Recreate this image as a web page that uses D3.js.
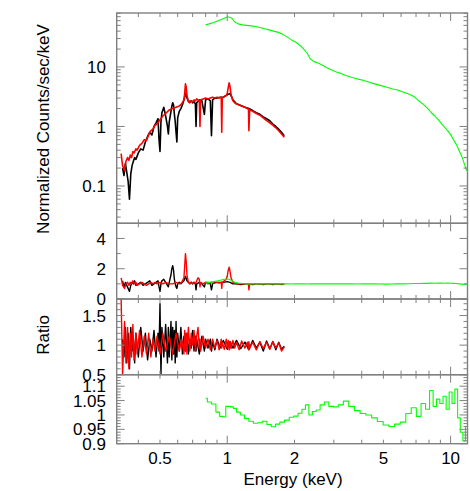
<!DOCTYPE html>
<html>
<head>
<meta charset="utf-8">
<script src="https://cdn.jsdelivr.net/npm/d3@7"></script>
<style>
body { margin: 0; background: #fff; }
text { font-family: "Liberation Sans", Arial, sans-serif; font-size: 17px; fill: #000; }
</style>
</head>
<body>
<svg id="chart" width="470" height="491"></svg>
<script>
// energy bins (keV) of the black data set
var blackE = [
  0.34,0.345,0.35,0.355,0.36,0.365,0.37,0.375,0.38,0.385,
  0.39,0.40,0.41,0.42,0.43,0.44,0.45,0.46,0.47,0.48,
  0.49,0.495,0.50,0.505,0.51,0.52,0.53,0.54,0.545,0.55,
  0.56,0.565,0.57,0.575,0.58,0.585,0.59,0.595,0.60,0.61,
  0.62,0.63,0.64,0.65,0.66,0.67,0.68,0.69,0.70,0.71,
  0.72,0.725,0.73,0.75,0.77,0.79,0.80,0.82,0.84,0.85,
  0.86,0.88,0.90,0.93,0.96,1.00,1.03,1.06,1.10,1.15,
  1.20,1.25,1.30,1.35,1.40,1.45,1.50,1.55,1.60,1.65,
  1.70,1.75,1.80];
var blackCounts = [
  0.20,0.15,0.24,0.17,0.12,0.06,0.16,0.22,0.26,0.30,
  0.28,0.36,0.42,0.40,0.55,0.68,0.80,0.72,1.00,1.15,
  1.35,0.60,0.38,1.20,1.70,2.10,1.50,1.00,0.75,1.20,
  1.80,2.20,2.50,2.30,1.60,1.20,0.80,0.55,1.40,1.80,
  2.00,2.30,2.80,3.60,3.00,2.70,2.60,2.70,2.50,2.60,
  2.40,1.00,2.50,2.80,2.70,1.60,2.80,2.90,2.70,0.70,
  2.80,3.00,3.00,3.10,3.10,3.40,3.60,2.80,2.40,2.25,
  2.10,2.00,1.85,1.70,1.60,1.45,1.35,1.25,1.10,1.00,
  0.90,0.80,0.70];
var blackLines = [
  1.2,0.8,1.1,0.9,0.7,0.5,0.9,1.1,1.0,1.2,
  0.9,1.0,1.1,0.9,1.0,1.1,1.2,0.9,1.0,1.1,
  1.2,0.8,0.5,1.0,1.2,1.3,1.1,0.9,0.8,1.1,
  1.6,2.0,2.2,1.9,1.3,1.0,0.8,0.7,1.0,1.1,
  1.0,1.1,1.2,1.5,1.2,1.1,1.0,1.1,1.0,1.1,
  1.0,0.6,1.0,1.1,1.0,0.8,1.1,1.1,1.0,0.6,
  1.0,1.1,1.1,1.1,1.1,1.15,1.1,1.0,1.0,0.95,
  1.0,1.0,0.95,1.0,1.0,0.95,1.0,1.0,0.95,1.0,
  1.0,0.95,1.0];
var blackRatio = [
  1.1,0.8,1.3,0.7,1.2,0.6,1.3,0.9,1.1,0.7,
  1.2,0.8,1.3,0.9,1.2,0.75,1.1,0.9,1.25,0.8,
  1.2,0.9,1.7,0.5,1.3,0.8,1.35,0.7,1.3,0.8,
  1.4,0.75,1.3,0.85,1.25,0.7,1.4,0.8,1.2,0.9,
  1.3,0.85,1.15,0.9,1.2,0.85,1.1,0.95,1.25,0.9,
  1.15,0.9,1.1,0.85,1.15,0.9,1.1,0.95,1.1,0.9,
  1.05,0.92,1.1,0.95,1.08,0.93,1.06,0.95,1.08,0.94,
  1.05,0.92,1.08,0.95,1.05,0.9,1.07,0.94,1.06,0.92,
  1.05,0.93,0.98];

// energy bins (keV) of the red data set
var redE = [
  0.335,0.34,0.347,0.352,0.358,0.363,0.368,0.373,0.378,0.383,
  0.39,0.395,0.405,0.415,0.425,0.435,0.445,0.455,0.465,0.475,
  0.485,0.50,0.515,0.53,0.55,0.57,0.59,0.61,0.625,0.64,
  0.645,0.65,0.655,0.66,0.67,0.68,0.69,0.70,0.71,0.72,
  0.73,0.74,0.75,0.755,0.76,0.78,0.80,0.82,0.84,0.86,
  0.88,0.90,0.92,0.94,0.945,0.95,0.97,0.99,1.00,1.01,
  1.02,1.03,1.04,1.06,1.08,1.10,1.13,1.16,1.20,1.23,
  1.245,1.25,1.26,1.30,1.35,1.40,1.45,1.50,1.55,1.60,
  1.65,1.70,1.75,1.80];
var redCounts = [
  0.35,0.22,0.18,0.26,0.30,0.27,0.33,0.30,0.38,0.36,
  0.42,0.40,0.48,0.52,0.60,0.58,0.72,0.85,0.90,1.05,
  1.10,1.30,1.50,1.65,1.90,2.00,2.10,2.20,2.40,2.80,
  3.60,5.20,4.60,3.40,2.60,2.50,2.70,2.60,2.80,2.70,
  2.90,2.80,2.70,1.00,2.80,2.90,3.00,2.90,3.00,3.10,
  3.00,3.10,3.00,3.10,0.80,3.00,3.20,3.30,3.60,4.50,
  5.40,4.60,3.40,2.70,2.50,2.40,2.30,2.20,2.10,2.00,
  1.95,0.85,1.90,1.80,1.65,1.55,1.40,1.25,1.15,1.05,
  0.95,0.85,0.75,0.66];
var redLines = [
  1.4,0.9,0.7,1.0,1.1,0.9,1.1,1.0,1.2,1.0,
  1.1,0.9,1.0,1.1,1.0,0.9,1.0,1.1,1.0,1.1,
  1.0,1.1,1.0,1.1,1.0,1.0,1.1,1.0,1.1,1.4,
  2.2,3.0,2.5,1.6,1.1,1.0,1.1,1.0,1.1,1.0,
  1.2,1.4,1.3,0.8,1.1,1.0,1.1,1.0,1.1,1.05,
  1.05,1.1,1.05,1.1,0.7,1.1,1.2,1.3,1.5,1.9,
  2.1,1.8,1.4,1.1,1.05,1.0,1.0,1.0,1.0,1.0,
  0.98,0.6,0.98,1.0,1.0,0.98,1.0,1.0,0.98,1.0,
  1.0,0.98,1.0,0.95];
var redRatio = [
  1.78,0.5,1.4,0.7,1.3,0.6,1.2,0.8,1.35,0.75,
  1.2,0.85,1.25,0.8,1.15,0.85,1.2,0.8,1.1,0.9,
  1.15,0.85,1.2,0.9,1.15,0.85,1.2,0.9,1.1,0.85,
  1.25,0.9,1.2,0.85,1.3,0.9,1.2,1.0,1.25,0.9,
  1.15,1.3,0.95,1.1,0.9,1.15,0.95,1.1,0.92,1.1,
  0.95,1.08,0.92,1.1,0.95,1.05,0.93,1.1,0.95,1.08,
  0.92,1.06,0.94,1.08,0.95,1.05,0.92,1.07,0.95,1.05,
  0.93,1.06,0.95,1.05,0.92,1.06,0.94,1.05,0.93,1.06,
  0.95,1.04,0.9,0.97];

// energy bins (keV) of the green data set
var greenE = [
  0.80,0.83,0.87,0.91,0.94,0.97,1.00,1.02,1.05,1.08,
  1.12,1.17,1.22,1.28,1.34,1.40,1.47,1.54,1.61,1.68,
  1.76,1.85,1.94,2.03,2.12,2.20,2.28,2.36,2.45,2.55,
  2.66,2.78,2.92,3.06,3.22,3.40,3.60,3.82,4.05,4.30,
  4.56,4.84,5.14,5.45,5.78,6.12,6.48,6.85,7.20,7.55,
  7.90,8.20,8.50,8.80,9.10,9.40,9.70,10.0,10.3,10.6,
  10.9,11.2,11.5,11.8];
var greenCounts = [
  51,53,56,60,63,66,69,69,66,57,
  53,51,50,49,48,46,44,42,40,38.5,
  36,32,28.5,26,23,20,17,13.5,12.3,11.7,
  10.8,9.8,9.0,8.3,7.8,7.2,6.7,6.3,6.0,5.6,
  5.2,4.9,4.6,4.3,4.1,3.8,3.5,3.2,2.7,2.35,
  2.0,1.7,1.5,1.3,1.12,0.97,0.85,0.73,0.60,0.50,
  0.40,0.32,0.24,0.18];
var greenLines = [
  1.05,1.1,1.15,1.2,1.25,1.3,1.32,1.3,1.2,1.1,
  1.05,1.02,1.0,1.0,1.0,1.0,1.0,1.0,1.0,1.0,
  1.0,1.01,0.99,1.0,1.01,1.0,0.99,1.0,1.01,1.0,
  1.0,1.01,1.0,1.0,1.01,1.0,1.0,0.99,1.0,1.0,
  1.0,0.99,0.98,0.99,1.0,1.0,1.01,1.02,1.02,1.03,
  1.03,1.05,1.04,1.06,1.05,1.04,1.05,1.04,1.03,1.02,
  1.0,0.98,0.96,0.95];
var greenRatio = [
  1.058,1.045,1.038,1.01,0.995,0.994,1.03,1.03,1.028,1.023,
  1.01,1.0,0.988,0.978,0.971,0.973,0.978,0.967,0.959,0.968,
  0.975,0.982,0.992,0.996,1.006,1.02,1.035,1.0,1.012,1.017,
  1.035,1.045,1.03,1.028,1.035,1.048,1.03,1.015,1.005,1.0,
  0.99,0.977,0.965,0.96,0.968,0.975,1.005,1.025,0.995,1.04,
  1.02,1.085,1.03,1.055,1.04,1.065,1.02,1.08,1.04,1.09,
  0.99,0.94,0.91,0.96];

// tick labels
var energyTicks = [0.5, 1, 2, 5, 10];
var countTicks = [0.1, 1, 10];
var lineTicks = [0, 2, 4];
var ratioTicks = [0.5, 1, 1.5];
var greenTicks = [0.9, 0.95, 1, 1.05, 1.1];

var svg = d3.select("#chart"),
    left = 116.7,
    right = 467.5,
    frameColor = "#808080";

var x = d3.scaleLog().domain([0.32, 11.9]).range([left, right]);

var panels = [
  { top: 13, bottom: 223.3, y: d3.scaleLog().domain([0.0236, 80.7]),
    labels: countTicks, minor: null, width: 1.6, curve: d3.curveLinear,
    series: [[blackE, blackCounts, "#000"], [redE, redCounts, "#f00"], [greenE, greenCounts, "#0f0"]] },
  { top: 223.3, bottom: 299, y: d3.scaleLinear().domain([0, 5]),
    labels: lineTicks, minor: 1, major: 2, width: 1.4, curve: d3.curveLinear,
    series: [[blackE, blackLines, "#000"], [redE, redLines, "#f00"], [greenE, greenLines, "#0f0"]] },
  { top: 299, bottom: 374.7, y: d3.scaleLinear().domain([0.5, 1.78]),
    labels: ratioTicks, minor: 0.1, major: 0.5, width: 1.4, curve: d3.curveLinear,
    series: [[blackE, blackRatio, "#000"], [redE, redRatio, "#f00"]] },
  { top: 374.7, bottom: 443.7, y: d3.scaleLinear().domain([0.9, 1.14]),
    labels: greenTicks, minor: 0.01, major: 0.05, width: 1.1, curve: d3.curveStep,
    series: [[greenE, greenRatio, "#0f0"]] }
];

function isMultiple(v, step) {
  var r = v / step;
  return Math.abs(r - Math.round(r)) < 1e-6;
}

panels.forEach(function (p, i) {
  p.y.range([p.bottom, p.top]);
  var g = svg.append("g").attr("class", "panel");

  var clipId = "clip" + i;
  svg.append("clipPath").attr("id", clipId)
     .append("rect")
     .attr("x", left).attr("y", p.top)
     .attr("width", right - left).attr("height", p.bottom - p.top);

  var line = d3.line()
      .curve(p.curve)
      .x(function (d) { return x(d[0]); })
      .y(function (d) { return p.y(d[1]); });

  p.series.forEach(function (s) {
    g.append("path")
     .attr("clip-path", "url(#" + clipId + ")")
     .attr("d", line(d3.zip(s[0], s[1])))
     .attr("fill", "none")
     .attr("stroke", s[2])
     .attr("stroke-width", s[2] == "#0f0" ? 1.1 : p.width)
     .attr("stroke-linejoin", "round");
  });

  // y ticks, inward on both sides
  var yt;
  if (p.minor == null) {
    yt = p.y.ticks().map(function (v) {
      var lg = Math.log10(v);
      return { v: v, major: Math.abs(lg - Math.round(lg)) < 1e-6 };
    });
  } else {
    yt = d3.range(Math.round((p.y.domain()[1] - p.y.domain()[0]) / p.minor) + 1)
      .map(function (k) {
        var v = p.y.domain()[0] + k * p.minor;
        return { v: v, major: isMultiple(v, p.major) };
      })
      .filter(function (d) { return d.v <= p.y.domain()[1] + 1e-9; });
  }
  yt.forEach(function (t) {
    var yy = p.y(t.v), len = t.major ? 8 : 4;
    g.append("line").attr("x1", left).attr("x2", left + len)
     .attr("y1", yy).attr("y2", yy)
     .attr("stroke", frameColor).attr("stroke-width", 1);
    g.append("line").attr("x1", right).attr("x2", right - len)
     .attr("y1", yy).attr("y2", yy)
     .attr("stroke", frameColor).attr("stroke-width", 1);
  });

  // x ticks at top and bottom of each panel
  x.ticks().forEach(function (v) {
    var xx = x(v), lg = Math.log10(v),
        len = Math.abs(lg - Math.round(lg)) < 1e-6 ? 8 : 4;
    g.append("line").attr("x1", xx).attr("x2", xx)
     .attr("y1", p.top).attr("y2", p.top + len)
     .attr("stroke", frameColor).attr("stroke-width", 1);
    g.append("line").attr("x1", xx).attr("x2", xx)
     .attr("y1", p.bottom).attr("y2", p.bottom - len)
     .attr("stroke", frameColor).attr("stroke-width", 1);
  });

  g.append("rect")
   .attr("x", left).attr("y", p.top)
   .attr("width", right - left).attr("height", p.bottom - p.top)
   .attr("fill", "none").attr("stroke", frameColor).attr("stroke-width", 1.4);

  g.selectAll("text.ylab").data(p.labels).enter()
   .append("text")
   .attr("class", "ylab")
   .attr("x", 106)
   .attr("y", function (d) { return p.y(d); })
   .attr("dy", "0.36em")
   .attr("text-anchor", "end")
   .text(function (d) { return d; });
});

svg.selectAll("text.xlab").data(energyTicks).enter()
   .append("text")
   .attr("class", "xlab")
   .attr("x", function (d) { return x(d); })
   .attr("y", 464)
   .attr("text-anchor", "middle")
   .text(function (d) { return d; });

svg.append("text")
   .attr("x", 293).attr("y", 485)
   .attr("text-anchor", "middle")
   .text("Energy (keV)");

svg.append("text")
   .attr("transform", "translate(49,129) rotate(-90)")
   .attr("text-anchor", "middle")
   .text("Normalized Counts/sec/keV");

svg.append("text")
   .attr("transform", "translate(49,335) rotate(-90)")
   .attr("text-anchor", "middle")
   .text("Ratio");
</script>
</body>
</html>
